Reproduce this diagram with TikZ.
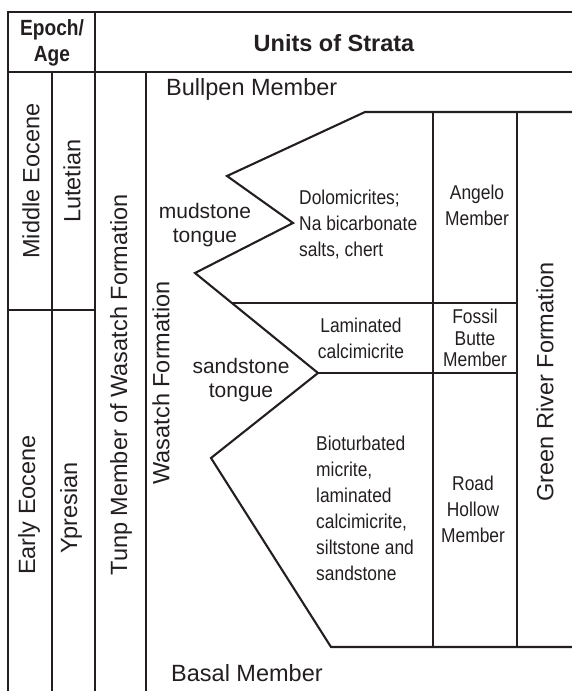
\documentclass[tikz,border=0pt]{standalone}
\usepackage{fontspec}
\setmainfont{Liberation Sans}
\newfontfamily\narrowfont[FakeStretch=0.87]{Liberation Sans}
\usepackage{tikz}
\definecolor{ink}{HTML}{231F20}

\begin{document}
\begin{tikzpicture}[
    x=1pt, y=-1pt,
    rule/.style={line width=2.1pt, draw=ink},
    big/.style={inner sep=0pt, text=ink, font=\fontsize{23.5}{28}\selectfont},
    vert/.style={big, rotate=90},
    tongue/.style={inner sep=0pt, text=ink, align=center, font=\fontsize{21}{24.3}\selectfont},
    lith/.style={inner sep=0pt, text=ink, font=\narrowfont\fontsize{20}{26}\selectfont},
    head/.style={inner sep=0pt, text=ink, align=center, font=\narrowfont\bfseries\fontsize{22}{26}\selectfont}
  ]
    \useasboundingbox (0,0) rectangle (572,691);

    % Frame and columns
    \draw[rule] (572,12) -- (8,12) -- (8,691);
    \draw[rule] (8,72) -- (572,72);
    \draw[rule] (52,72) -- (52,691);
    \draw[rule] (95,12) -- (95,691);
    \draw[rule] (146,72) -- (146,691);
    \draw[rule] (8,310) -- (95,310);

    % Tongues of the Wasatch Formation
    \coordinate (ztop) at (365,112);
    \coordinate (z1) at (227,176);
    \coordinate (z2) at (293,223);
    \coordinate (z3) at (195,273);
    \coordinate (z4) at (318,373);
    \coordinate (z5) at (211,458);
    \coordinate (zbot) at (331,647);
    \draw[rule] (572,112) -- (ztop) -- (z1) -- (z2) -- (z3) -- (z4) -- (z5) -- (zbot) -- (572,647);

    % Members of the Green River Formation
    \draw[rule] (433,112) -- (433,647);
    \draw[rule] (517,112) -- (517,647);
    \draw[rule] (232,303) -- (517,303);
    \draw[rule] (z4) -- (517,373);

    % Header
    \node[head] (epoch) at (52,43) {Epoch/\\Age};
    \node[big, font=\bfseries\fontsize{23.5}{28}\selectfont, anchor=base] (units) at (334,51) {Units of Strata};

    % Age columns
    \node[vert] (middle) at (31,181) {Middle Eocene};
    \node[vert] (lutetian) at (72,181) {Lutetian};
    \node[vert] (early) at (29,505) {Early Eocene};
    \node[vert] (ypresian) at (71,508) {Ypresian};

    % Formations
    \node[vert] (tunp) at (121,385) {Tunp Member of Wasatch Formation};
    \node[vert] (wasatch) at (161,383) {Wasatch Formation};
    \node[vert] (green) at (545,382) {Green River Formation};
    \node[big, anchor=base west] (bullpen) at (166,95) {Bullpen Member};
    \node[big, anchor=base west] (basal) at (171,681) {Basal Member};

    % Tongues and lithology
    \node[tongue] (mud) at (205,225) {mudstone\\tongue};
    \node[tongue] (sand) at (241,380) {sandstone\\tongue};
    \node[lith, align=left, anchor=west] (dolo) at (299,225) {Dolomicrites;\\Na bicarbonate\\salts, chert};
    \node[lith, align=center] (lamin) at (361,338) {Laminated\\calcimicrite};
    \node[lith, align=left, anchor=west] (biot) at (316,508) {Bioturbated\\micrite,\\laminated\\calcimicrite,\\siltstone and\\sandstone};
    \node[lith, align=center] (angelo) at (477,205) {Angelo\\Member};
    \node[lith, align=center, font=\narrowfont\fontsize{20}{21.5}\selectfont] (fossil) at (475,338) {Fossil\\Butte\\Member};
    \node[lith, align=center] (road) at (473,509) {Road\\Hollow\\Member};
\end{tikzpicture}
\end{document}
